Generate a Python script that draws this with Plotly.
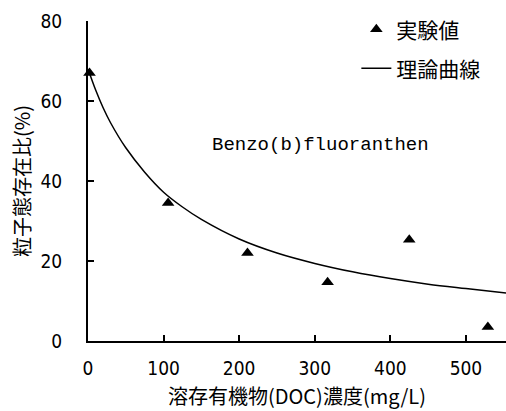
import plotly.graph_objects as go

exp_doc = [2, 106, 211, 317, 425, 529]
exp_ratio = [67, 34.5, 22, 14.7, 25.3, 3.5]

# Theoretical curve
curve_doc = [0, 10, 20, 30, 50, 75, 100, 125, 150, 200, 250, 300, 350, 400, 450, 500, 553]
curve_ratio = [68, 62.8, 58.3, 54.5, 48.3, 42.2, 37.2, 33.5, 30.4, 25.5, 22.0, 19.4, 17.3, 15.6, 14.2, 13.1, 12.0]

x_ticks = [0, 100, 200, 300, 400, 500]
y_ticks = [0, 20, 40, 60, 80]

num_font = "Liberation Sans Narrow, DejaVu Sans Condensed, sans-serif"
cjk_font = "Noto Sans CJK JP"

fig = go.Figure()
fig.add_trace(go.Scatter(
    x=exp_doc, y=exp_ratio, mode="markers", name="実験値",
    marker=dict(symbol="triangle-up", size=11, color="black"),
    cliponaxis=False, legend="legend",
))
fig.add_trace(go.Scatter(
    x=curve_doc, y=curve_ratio, mode="lines", name="理論曲線",
    line=dict(color="black", width=1.5, shape="spline"),
    legend="legend2",
))

fig.add_annotation(
    x=307, y=49, text="Benzo(b)fluoranthen", showarrow=False,
    font=dict(family="Liberation Mono, DejaVu Sans Mono, monospace", size=19, color="black"),
)
# x-axis title
fig.add_annotation(
    xref="paper", yref="paper", x=0.5, y=-0.222, xanchor="center", yanchor="bottom",
    text="溶存有機物(DOC)濃度(mg/L)", showarrow=False,
    font=dict(family=cjk_font, size=20, color="black"),
)

leg_common = dict(
    xanchor="left", yanchor="top",
    font=dict(family=cjk_font, size=21, color="black"),
    bgcolor="rgba(0,0,0,0)", itemwidth=30,
)
fig.update_layout(
    width=506, height=411,
    margin=dict(l=88, r=0, t=21, b=70),
    paper_bgcolor="white", plot_bgcolor="white",
    showlegend=True,
    legend=dict(x=0.642, y=1.037, **leg_common),
    legend2=dict(x=0.642, y=0.915, **leg_common),
)
fig.update_xaxes(
    range=[0, 553], tickvals=x_ticks, ticktext=[str(v) for v in x_ticks],
    showgrid=False, zeroline=False, showline=True, linecolor="black", linewidth=2,
    ticks="inside", ticklen=6, tickwidth=2, tickcolor="black",
    tickfont=dict(family=num_font, size=19, color="black"),
    ticklabelstandoff=9,
)
fig.update_yaxes(
    range=[0, 80], tickvals=y_ticks, ticktext=[str(v) for v in y_ticks],
    showgrid=False, zeroline=False, showline=True, linecolor="black", linewidth=2,
    ticks="inside", ticklen=6, tickwidth=2, tickcolor="black",
    tickfont=dict(family=num_font, size=19, color="black"),
    ticklabelstandoff=20,
    title=dict(text="粒子態存在比(%)", font=dict(family=cjk_font, size=20, color="black"), standoff=4),
)

fig.write_html("out.html")
